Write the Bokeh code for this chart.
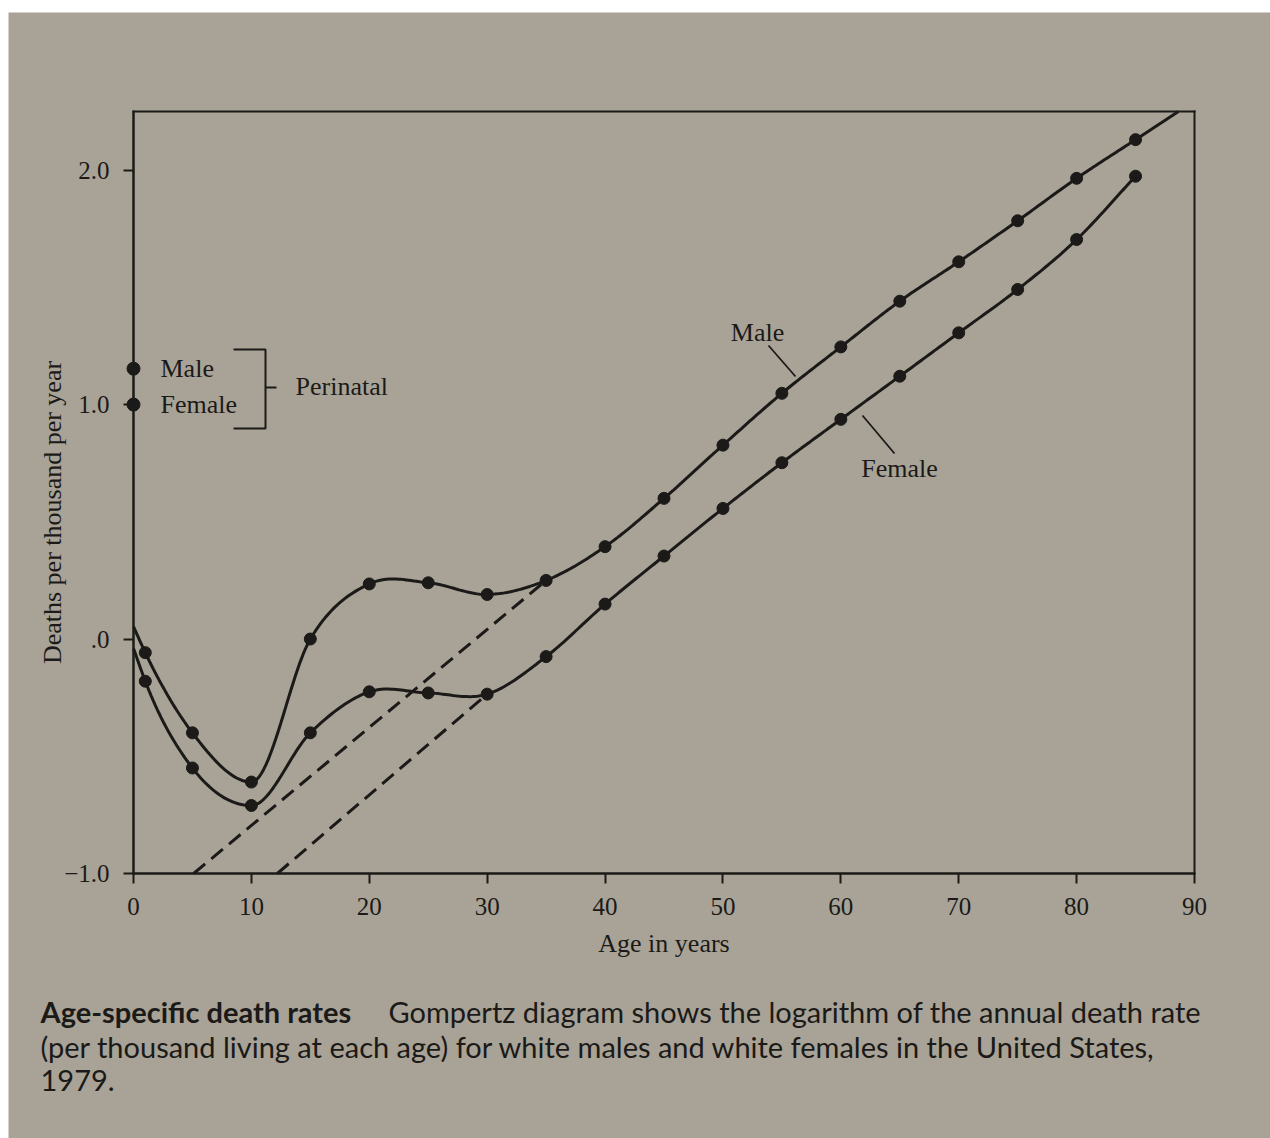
import numpy as np
from bokeh.plotting import figure
from bokeh.models import Range1d, FixedTicker, Label, Spacer
from bokeh.layouts import row, column
from bokeh.embed import file_html
from bokeh.resources import INLINE

# ---------------- data ----------------
ages = [1, 5, 10, 15, 20, 25, 30, 35, 40, 45, 50, 55, 60, 65, 70, 75, 80, 85]
male = [-0.058, -0.40, -0.61, 0.0, 0.235, 0.24, 0.19, 0.25, 0.394, 0.600,
        0.827, 1.048, 1.246, 1.441, 1.609, 1.784, 1.965, 2.13]
female = [-0.18, -0.55, -0.71, -0.40, -0.225, -0.23, -0.235, -0.075, 0.149,
          0.354, 0.557, 0.752, 0.937, 1.121, 1.306, 1.491, 1.704, 1.974]
male_age0 = 0.053      # curve start at age 0
female_age0 = -0.04
perinatal_labels = ["Male", "Female"]
perinatal_values = [1.153, 1.0]
male_trend_x = [5.1, 35]
male_trend_y = [-1.0, 0.25]
female_trend_x = [12.2, 30]
female_trend_y = [-1.0, -0.235]
x_ticks = [0, 10, 20, 30, 40, 50, 60, 70, 80, 90]
y_ticks = [-1, 0, 1, 2]
y_tick_labels = {-1: "\u22121.0", 0: ".0", 1: "1.0", 2: "2.0"}
caption_bold = "Age-specific death rates"
caption_lines = ["Gompertz diagram shows the logarithm of the annual death rate",
                 "(per thousand living at each age) for white males and white females in the United States,",
                 "1979."]

INK = "#1b1a18"
BG = "#a8a396"
SERIF = "Liberation Serif"
CAP_FONT = "Lato"

# geometry in page pixels
OX, OY = 8, 12                              # white strip of the scan (left / top)
FX0, FX1, FY0, FY1 = 133, 1194, 111, 873    # axes box
XMIN, XMAX, YMIN, YMAX = 0, 90, -1.0, 2.25
KX = (FX1 - FX0) / (XMAX - XMIN)
KY = (FY1 - FY0) / (YMAX - YMIN)
W, H = 1270 - OX, 1138 - OY


def px2x(px):
    return XMIN + (px - FX0) / KX


def py2y(py):
    return YMAX - (py - FY0) / KY


def smooth(xs, ys, n=24):
    xs = np.asarray(xs, float)
    ys = np.asarray(ys, float)
    h = np.diff(xs)
    d = np.diff(ys) / h
    m = np.empty_like(ys)
    m[0] = d[0]
    m[-1] = d[-1]
    m[1:-1] = (d[:-1] * h[1:] + d[1:] * h[:-1]) / (h[:-1] + h[1:])
    m[int(np.argmin(ys))] = 0.0          # curve bottoms out at the lowest point
    ox, oy = [], []
    for i in range(len(xs) - 1):
        t = np.linspace(0, 1, n, endpoint=False)
        h00 = 2 * t**3 - 3 * t**2 + 1
        h10 = t**3 - 2 * t**2 + t
        h01 = -2 * t**3 + 3 * t**2
        h11 = t**3 - t**2
        ox.extend(xs[i] + t * h[i])
        oy.extend(h00 * ys[i] + h10 * h[i] * m[i] + h01 * ys[i + 1] + h11 * h[i] * m[i + 1])
    ox.append(xs[-1])
    oy.append(ys[-1])
    return ox, oy


# the frame covers the whole page area; axes sit at fixed locations inside it
p = figure(width=W, height=H,
           x_range=Range1d(px2x(OX), px2x(1270)),
           y_range=Range1d(py2y(1138), py2y(OY)),
           output_backend="svg", toolbar_location=None, min_border=0)
p.background_fill_color = BG
p.border_fill_color = BG
p.outline_line_color = None
p.grid.visible = False

for ax in (p.xaxis[0], p.yaxis[0]):
    ax.axis_line_color = INK
    ax.axis_line_width = 2
    ax.major_tick_line_color = INK
    ax.major_tick_line_width = 2
    ax.major_tick_out = 10
    ax.major_tick_in = 0
    ax.minor_tick_line_color = None
    ax.major_label_text_font = SERIF
    ax.major_label_text_font_size = "25px"
    ax.major_label_text_color = INK
    ax.axis_label_text_font = SERIF
    ax.axis_label_text_font_size = "26px"
    ax.axis_label_text_font_style = "normal"
    ax.axis_label_text_color = INK

p.xaxis.fixed_location = YMIN
p.xaxis.bounds = (XMIN, XMAX)
p.xaxis.ticker = FixedTicker(ticks=x_ticks)
p.xaxis.axis_label = "Age in years"
p.xaxis.major_label_standoff = 14
p.xaxis.axis_label_standoff = 11
p.yaxis.fixed_location = XMIN
p.yaxis.bounds = (YMIN, YMAX)
p.yaxis.ticker = FixedTicker(ticks=y_ticks)
p.yaxis.major_label_overrides = y_tick_labels
p.yaxis.major_label_standoff = 14

# y-axis title (placed where the book has it)
p.add_layout(Label(x=px2x(52), y=py2y(512), text="Deaths per thousand per year", angle=np.pi / 2,
                   text_font=SERIF, text_font_size="26px", text_color=INK,
                   text_align="center", text_baseline="middle"))

# axes box
p.segment(x0=[XMIN, XMIN, XMAX, XMIN], y0=[YMIN, YMAX, YMIN, YMIN],
          x1=[XMAX, XMAX, XMAX, XMIN], y1=[YMIN, YMAX, YMAX, YMAX],
          line_color=INK, line_width=2, line_cap="square")

# smooth curves through the points
mx, my = smooth([0] + ages, [male_age0] + male)
fx, fy = smooth([0] + ages, [female_age0] + female)
p.line(mx, my, line_color=INK, line_width=3)
p.line(fx, fy, line_color=INK, line_width=3)
# male line continues past the last point up to the top of the box
slope = (male[-1] - male[-2]) / (ages[-1] - ages[-2])
x_end = min(XMAX, ages[-1] + (YMAX - male[-1]) / slope)
p.line([ages[-1], x_end], [male[-1], male[-1] + slope * (x_end - ages[-1])], line_color=INK, line_width=3)

p.scatter(ages, male, size=12, color=INK)
p.scatter(ages, female, size=12, color=INK)

# Gompertz extrapolation (dashed)
p.line(male_trend_x, male_trend_y, line_color=INK, line_width=3, line_dash="15 8")
p.line(female_trend_x, female_trend_y, line_color=INK, line_width=3, line_dash="15 8")

# perinatal values on the axis
p.scatter([0, 0], perinatal_values, size=13, color=INK)
for lab, v in zip(perinatal_labels, perinatal_values):
    p.add_layout(Label(x=px2x(160), y=v, text=lab, text_font=SERIF, text_font_size="26px",
                       text_color=INK, text_baseline="middle", text_align="left"))
# bracket
bx0, bx1, bx2 = px2x(233), px2x(265), px2x(276)
by0, by1, bym = py2y(349), py2y(428), py2y(387)
p.line([bx0, bx1, bx1, bx0], [by0, by0, by1, by1], line_color=INK, line_width=2)
p.line([bx1, bx2], [bym, bym], line_color=INK, line_width=2)
p.add_layout(Label(x=px2x(295), y=py2y(386), text="Perinatal", text_font=SERIF,
                   text_font_size="26px", text_color=INK, text_baseline="middle"))

# series labels with leader lines
p.add_layout(Label(x=px2x(757), y=py2y(332), text="Male", text_font=SERIF, text_font_size="26px",
                   text_color=INK, text_baseline="middle", text_align="center"))
p.line([px2x(768), px2x(795)], [py2y(345), py2y(376)], line_color=INK, line_width=1.8)
p.add_layout(Label(x=px2x(899), y=py2y(468), text="Female", text_font=SERIF, text_font_size="26px",
                   text_color=INK, text_baseline="middle", text_align="center"))
p.line([px2x(894), px2x(862)], [py2y(453), py2y(415)], line_color=INK, line_width=1.8)

# caption
cap = [
    (40, 1011, caption_bold, "bold"),
    (388, 1011, caption_lines[0], "normal"),
    (40, 1046, caption_lines[1], "normal"),
    (40, 1080, caption_lines[2], "normal"),
]
for cx, cy, txt, style in cap:
    p.add_layout(Label(x=px2x(cx), y=py2y(cy), text=txt, text_font=CAP_FONT, text_font_size="29px",
                       text_font_style=style, text_color=INK, text_baseline="middle", text_align="left"))

layout = row(Spacer(width=OX, height=1138), column(Spacer(width=W, height=OY), p))
open("out.html", "w").write(file_html(layout, INLINE))
